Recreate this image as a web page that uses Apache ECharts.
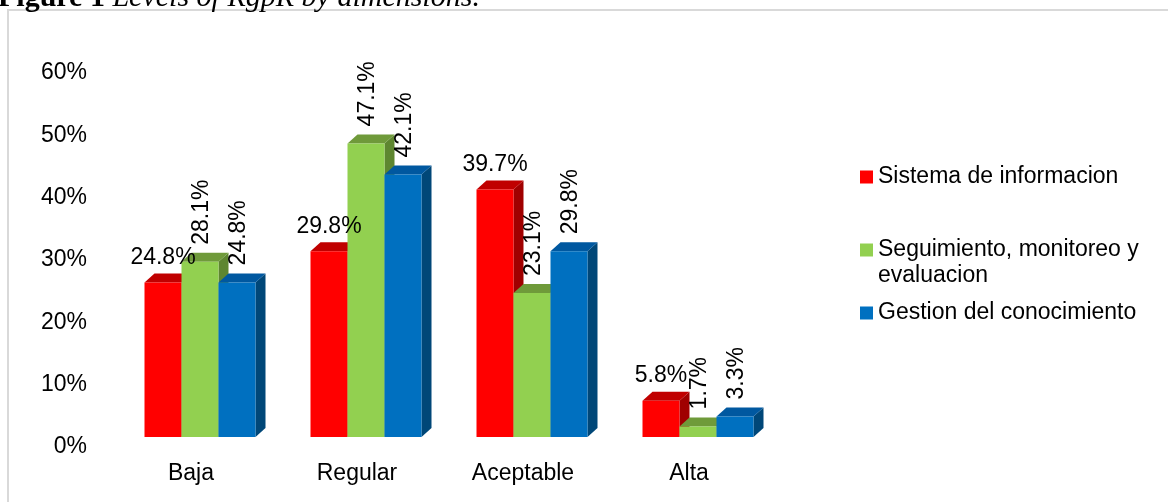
<!DOCTYPE html>
<html>
<head>
<meta charset="utf-8">
<script src="https://cdn.jsdelivr.net/npm/echarts@6/dist/echarts.min.js"></script>
<style>
  html, body { margin: 0; padding: 0; background: #fff; }
  #chart { width: 1168px; height: 502px; }
</style>
</head>
<body>
<div id="chart"></div>
<script>
var categories = ['Baja', 'Regular', 'Aceptable', 'Alta'];
var seriesNames = ['Sistema de informacion', 'Seguimiento, monitoreo y evaluacion', 'Gestion del conocimiento'];
var sistema = [24.8, 29.8, 39.7, 5.8];
var seguimiento = [28.1, 47.1, 23.1, 1.7];
var gestion = [24.8, 42.1, 29.8, 3.3];
var yTicks = [0, 10, 20, 30, 40, 50, 60];

(function() {
  var font = '"Liberation Sans", Arial, sans-serif';
  var serif = '"Liberation Serif", "Times New Roman", serif';
  var fs = 23;
  // front, top, side shades
  var shades = [
    ['#FF0000', '#C00000', '#A00000'],
    ['#92D050', '#6F9A3A', '#5E8630'],
    ['#0070C0', '#0058A0', '#004778']
  ];
  var values = [sistema, seguimiento, gestion];
  var dx = 10, dy = 9;

  function makeRender(si) {
    return function(params, api) {
      var ci = api.value(0), v = api.value(1);
      var base = api.coord([ci, 0]);
      var top = api.coord([ci, v]);
      var band = api.size([1, 0])[0];
      var w = band * 0.2229;
      var x0 = base[0] - 1.5 * w + si * w;
      var ty = top[1], by = base[1];
      var c = shades[si];
      var txt = v.toFixed(1) + '%';
      var label;
      if (si === 0) {
        label = {
          type: 'text', x: x0 + w / 2, y: ty - dy - 16, z2: 100,
          style: { text: txt, fill: '#000', fontSize: fs, fontFamily: font, align: 'center', verticalAlign: 'middle' }
        };
      } else {
        label = {
          type: 'text', x: x0 + w / 2 + 2, y: ty - dy - 8, rotation: Math.PI / 2, z2: 100,
          style: { text: txt, fill: '#000', fontSize: fs, fontFamily: font, align: 'left', verticalAlign: 'middle' }
        };
      }
      return {
        type: 'group',
        children: [
          { type: 'polygon', shape: { points: [[x0 + w, ty], [x0 + w + dx, ty - dy], [x0 + w + dx, by - dy], [x0 + w, by]] }, style: { fill: c[2] } },
          { type: 'polygon', shape: { points: [[x0, ty], [x0 + w, ty], [x0 + w + dx, ty - dy], [x0 + dx, ty - dy]] }, style: { fill: c[1] } },
          { type: 'rect', shape: { x: x0, y: ty, width: w, height: by - ty }, style: { fill: c[0] } },
          label
        ]
      };
    };
  }

  var series = values.map(function(arr, si) {
    return {
      name: seriesNames[si],
      type: 'custom',
      renderItem: makeRender(si),
      itemStyle: { color: shades[si][0] },
      data: arr.map(function(v, i) { return [i, v]; }),
      encode: { x: 0, y: 1 }
    };
  });

  var legendBase = {
    orient: 'vertical', left: 860, padding: 0, icon: 'rect',
    itemWidth: 13, itemHeight: 13, selectedMode: false,
    textStyle: { fontSize: fs, fontFamily: font, color: '#000', lineHeight: 26 }
  };
  function legendAt(name, top, extra) {
    var l = Object.assign({}, legendBase, { top: top, data: [name] });
    if (extra) Object.assign(l, extra);
    return l;
  }

  var chart = echarts.init(document.getElementById('chart'), null, { renderer: 'canvas' });
  chart.setOption({
    animation: false,
    backgroundColor: '#fff',
    grid: { left: 117, right: 387, top: 63, bottom: 65 },
    xAxis: {
      type: 'category',
      data: categories,
      axisLine: { show: false },
      axisTick: { show: false },
      axisLabel: { color: '#000', fontSize: fs, fontFamily: font, margin: 25, padding: [0, 18, 0, 0] }
    },
    yAxis: {
      type: 'value',
      min: yTicks[0],
      max: yTicks[yTicks.length - 1],
      interval: 10,
      axisLine: { show: false },
      axisTick: { show: false },
      splitLine: { show: false },
      axisLabel: { color: '#000', fontSize: fs, fontFamily: font, margin: 30, verticalAlign: 'top', lineHeight: 20, formatter: '{value}%' }
    },
    legend: [
      legendAt(seriesNames[0], 164),
      legendAt(seriesNames[1], 211, {
        // blank first line keeps the marker level with the first text line
        formatter: function() { return ' \nSeguimiento, monitoreo y\nevaluacion'; }
      }),
      legendAt(seriesNames[2], 300)
    ],
    graphic: [
      { type: 'rect', z: -10, shape: { x: 8, y: 10, width: 1300, height: 700 }, style: { fill: null, stroke: '#D9D9D9', lineWidth: 2 } },
      {
        type: 'text', x: -2, y: 13,
        style: {
          text: '{b|Figure 1 }{i|Levels of RgpR by dimensions.}',
          verticalAlign: 'bottom',
          rich: {
            b: { fontFamily: serif, fontWeight: 'bold', fontSize: 30, fill: '#000' },
            i: { fontFamily: serif, fontStyle: 'italic', fontSize: 30, fill: '#000' }
          }
        }
      }
    ],
    series: series
  });
})();
</script>
</body>
</html>
